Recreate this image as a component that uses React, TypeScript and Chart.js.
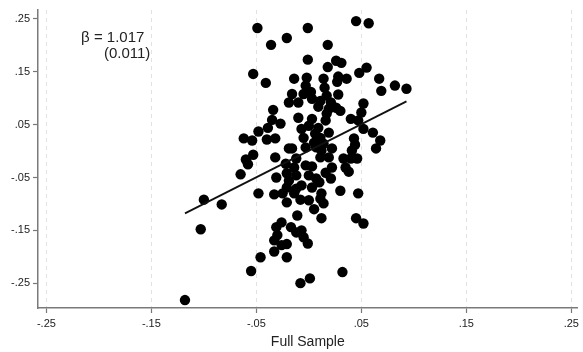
import React, { useEffect, useRef } from "react";
import { Chart, registerables } from "chart.js";

Chart.register(...registerables);

const xValues: number[] = [
  -0.049, -0.036, -0.021, -0.053, -0.041, 0.045, 0.057, -0.001, 0.018, -0.001,
  0.026, 0.031, 0.018, 0.055, 0.048, 0.067, 0.082, 0.093, 0.069, -0.014,
  -0.002, -0.003, 0.014, 0.015, 0.028, 0.036, 0.027, -0.016, -0.005, 0.002,
  0.003, -0.019, -0.010, 0.011, 0.021, 0.028, 0.052, -0.034, -0.035, -0.027,
  -0.039, -0.048, -0.062, -0.054, -0.040, -0.032, -0.053, -0.060, -0.058, -0.032,
  -0.065, -0.031, -0.022, -0.021, -0.019, -0.048, -0.021, -0.033, -0.025, 0.026,
  0.030, 0.019, 0.017, 0.050, 0.040, 0.047, 0.052, -0.010, 0.003, 0.000,
  0.009, 0.016, -0.007, 0.019, 0.011, -0.005, 0.005, -0.003, 0.043, 0.044,
  0.061, 0.068, 0.064, 0.041, 0.040, 0.046, -0.016, 0.007, 0.012, 0.022,
  0.011, 0.019, 0.033, 0.035, 0.022, 0.016, 0.021, -0.014, -0.003, 0.003,
  -0.012, 0.000, 0.007, -0.019, -0.007, 0.003, 0.012, 0.030, 0.047, -0.014,
  0.038, -0.100, -0.083, -0.021, -0.103, -0.031, -0.026, -0.033, -0.030, -0.033,
  -0.026, -0.021, -0.046, -0.055, -0.118, -0.008, 0.000, 0.011, 0.014, 0.005,
  -0.011, 0.012, 0.045, 0.052, -0.017, -0.012, -0.007, -0.005, -0.001, -0.021,
  0.032, 0.001, -0.008, 0.009, 0.006, 0.014, -0.012, 0.010, -0.012, 0.017,
];

const yValues: number[] = [
  0.233, 0.201, 0.214, 0.146, 0.129, 0.246, 0.242, 0.233, 0.201, 0.173,
  0.171, 0.167, 0.159, 0.158, 0.148, 0.137, 0.124, 0.118, 0.114, 0.137,
  0.139, 0.124, 0.137, 0.120, 0.141, 0.137, 0.131, 0.108, 0.108, 0.112,
  0.099, 0.092, 0.092, 0.095, 0.092, 0.107, 0.090, 0.078, 0.059, 0.052,
  0.044, 0.037, 0.024, 0.020, 0.022, 0.024, -0.007, -0.016, -0.025, -0.012,
  -0.044, -0.050, -0.024, -0.042, 0.005, -0.080, -0.069, -0.082, -0.080, 0.082,
  0.076, 0.080, 0.071, 0.073, 0.061, 0.058, 0.042, 0.063, 0.061, 0.048,
  0.044, 0.058, 0.042, 0.035, 0.025, 0.025, 0.016, 0.007, 0.024, 0.012,
  0.035, 0.020, 0.005, 0.001, -0.014, -0.014, 0.005, 0.007, 0.001, 0.005,
  -0.012, -0.012, -0.014, -0.031, -0.031, -0.041, -0.052, -0.031, -0.027, -0.029,
  -0.046, -0.046, -0.052, -0.056, -0.065, -0.069, -0.080, -0.075, -0.080, -0.080,
  -0.039, -0.092, -0.101, -0.097, -0.148, -0.144, -0.135, -0.169, -0.159, -0.190,
  -0.178, -0.201, -0.201, -0.227, -0.282, -0.092, -0.093, -0.090, -0.099, -0.110,
  -0.122, -0.127, -0.127, -0.137, -0.144, -0.154, -0.150, -0.163, -0.175, -0.176,
  -0.229, -0.241, -0.250, 0.084, 0.033, 0.014, -0.014, -0.059, -0.071, 0.105,
];

const fitX: number[] = [-0.118, 0.093];
const fitY: number[] = [-0.118, 0.094];

const xTicks: number[] = [-0.25, -0.15, -0.05, 0.05, 0.15, 0.25];
const yTicks: number[] = [-0.25, -0.15, -0.05, 0.05, 0.15, 0.25];

const xTitle = "Full Sample";
const noteLines: string[] = ["β = 1.017", "(0.011)"];
const noteX: number[] = [-0.1567, -0.151];
const noteY: number[] = [0.214, 0.184];

const FONT = "'Liberation Sans', Arial, Helvetica, sans-serif";

const fmt = (v: number) => {
  const s = Math.abs(v).toFixed(2).replace(/^0/, "");
  return (v < -1e-9 ? "-" : "") + s;
};

const notePlugin = {
  id: "noteText",
  afterDatasetsDraw(chart: any) {
    const { ctx, scales } = chart;
    ctx.save();
    ctx.font = `15px ${FONT}`;
    ctx.fillStyle = "#222";
    ctx.textAlign = "right";
    ctx.textBaseline = "middle";
    noteLines.forEach((t, i) => {
      ctx.fillText(t, scales.x.getPixelForValue(noteX[i]), scales.y.getPixelForValue(noteY[i]));
    });
    ctx.restore();
  },
};

export default function App() {
  const ref = useRef<HTMLCanvasElement | null>(null);
  useEffect(() => {
    if (!ref.current) return;
    const points = xValues.map((x, i) => ({ x, y: yValues[i] }));
    const fit = fitX.map((x, i) => ({ x, y: fitY[i] }));
    const chart = new Chart(ref.current, {
      type: "scatter",
      data: {
        datasets: [
          {
            data: points,
            backgroundColor: "#000",
            borderColor: "#000",
            borderWidth: 0,
            pointRadius: 5.2,
            clip: false as any,
            order: 2,
          },
          {
            data: fit,
            showLine: true,
            borderColor: "#111",
            borderWidth: 1.8,
            pointRadius: 0,
            order: 1,
          } as any,
        ],
      },
      options: {
        animation: false,
        responsive: false,
        events: [],
        layout: { padding: { top: 10, right: 2, left: 0, bottom: 0 } },
        plugins: { legend: { display: false }, tooltip: { enabled: false } },
        scales: {
          x: {
            type: "linear",
            min: -0.258,
            max: 0.256,
            afterBuildTicks: (s: any) => {
              s.ticks = xTicks.map((v) => ({ value: v }));
            },
            afterFit: (s: any) => {
              s.height = 44;
            },
            ticks: {
              callback: (v: any) => fmt(Number(v)),
              font: { family: FONT, size: 11 },
              color: "#222",
              padding: 4,
              maxRotation: 0,
              autoSkip: false,
            },
            grid: {
              color: "#e2e2e2",
              lineWidth: 1,
              tickColor: "#777",
              tickLength: 5,
              tickWidth: 1.2,
              tickBorderDash: [],
            } as any,
            border: { color: "#7a7a7a", width: 1.5, dash: [4, 4] } as any,
            title: {
              display: true,
              text: xTitle,
              font: { family: FONT, size: 14 },
              color: "#222",
              padding: { top: 0, bottom: 1 },
            },
          },
          y: {
            type: "linear",
            min: -0.297,
            max: 0.267,
            afterBuildTicks: (s: any) => {
              s.ticks = yTicks.map((v) => ({ value: v }));
            },
            afterFit: (s: any) => {
              s.width = 38;
            },
            ticks: {
              callback: (v: any) => fmt(Number(v)),
              font: { family: FONT, size: 11 },
              color: "#222",
              padding: 3,
              autoSkip: false,
            },
            grid: {
              drawOnChartArea: false,
              drawTicks: true,
              tickColor: "#777",
              tickLength: 5,
              tickWidth: 1.2,
            } as any,
            border: { color: "#7a7a7a", width: 1.5 } as any,
          },
        },
      },
      plugins: [notePlugin],
    });
    return () => chart.destroy();
  }, []);
  return (
    <div style={{ position: "fixed", left: 0, top: 0, width: 583, height: 352, background: "#fff" }}>
      <canvas ref={ref} width={583} height={352} style={{ width: 583, height: 352, display: "block" }} />
    </div>
  );
}
